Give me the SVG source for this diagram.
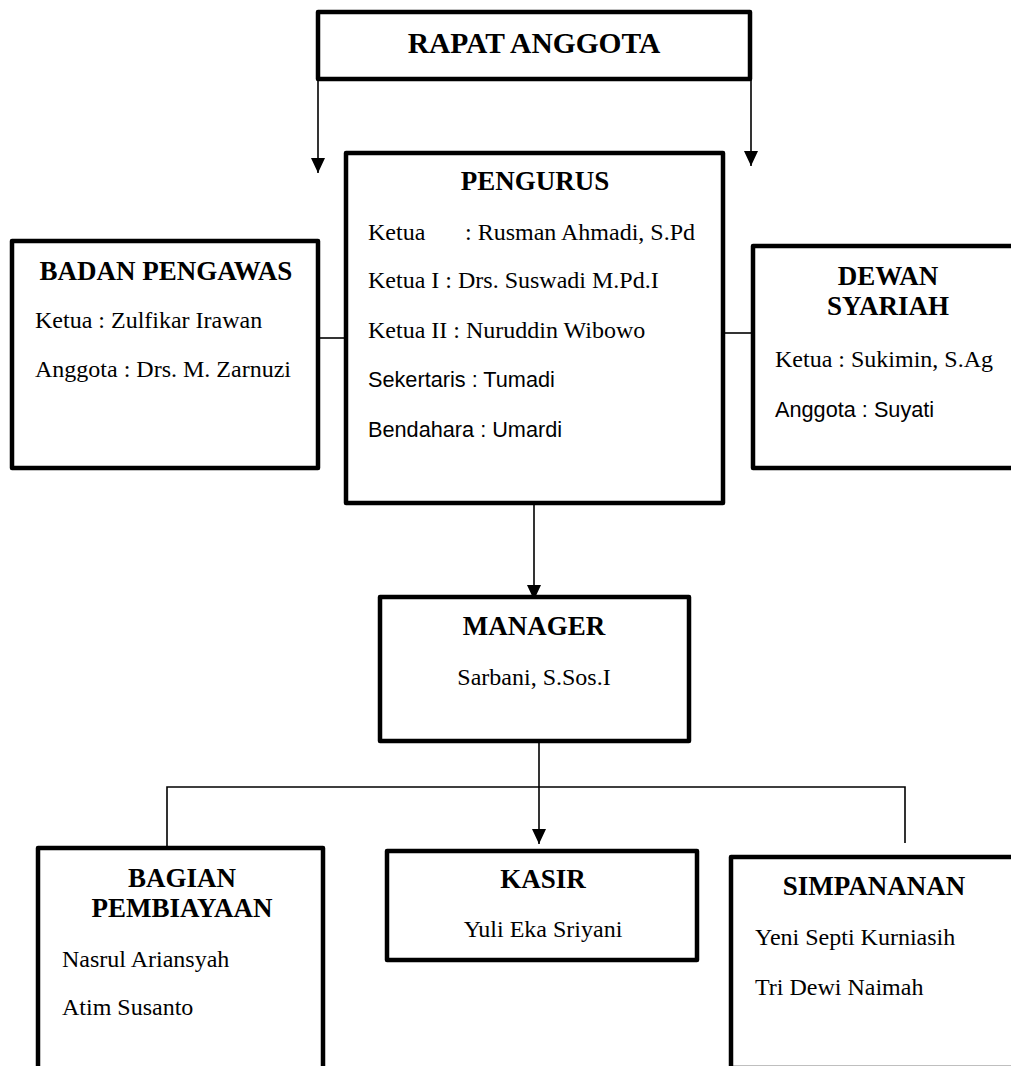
<svg xmlns="http://www.w3.org/2000/svg" width="1011" height="1066" viewBox="0 0 1011 1066">
<style>
.box{fill:#fff;stroke:#000;stroke-width:4.5;stroke-linejoin:round}
.ln{fill:none;stroke:#000;stroke-width:1.6}
.h{font-family:"Liberation Serif","Times New Roman",serif;font-weight:bold;font-size:27px;fill:#000;text-anchor:middle}
.t{font-family:"Liberation Serif","Times New Roman",serif;font-size:24px;fill:#000}
.c{font-family:"Liberation Sans",Arial,sans-serif;font-size:21.7px;fill:#000}
.mid{text-anchor:middle}
</style>
<defs>
<marker id="arr" viewBox="0 0 15 14" markerWidth="15" markerHeight="14" refX="15" refY="7" orient="auto" markerUnits="userSpaceOnUse">
<path d="M0,0 L15,7 L0,14 Z" fill="#000"/>
</marker>
</defs>
<rect width="1011" height="1066" fill="#fff"/>
<g id="connectors">
<line class="ln" x1="318" y1="79" x2="318" y2="173" marker-end="url(#arr)"/>
<line class="ln" x1="751" y1="79" x2="751" y2="166" marker-end="url(#arr)"/>
<line class="ln" x1="318" y1="338" x2="346" y2="338"/>
<line class="ln" x1="723" y1="333" x2="753" y2="333"/>
<line class="ln" x1="534" y1="503" x2="534" y2="600" marker-end="url(#arr)"/>
<line class="ln" x1="539" y1="741" x2="539" y2="844" marker-end="url(#arr)"/>
<polyline class="ln" points="167,848 167,787 905,787 905,843"/>
</g>
<g id="rapat-anggota">
<rect class="box" x="318" y="12" width="432" height="67"/>
<text class="h" x="534" y="53" style="font-size:29.5px">RAPAT ANGGOTA</text>
</g>
<g id="pengurus">
<rect class="box" x="346" y="153" width="377" height="350"/>
<text class="h" x="535" y="190">PENGURUS</text>
<text class="t" x="368" y="240">Ketua</text>
<text class="t" x="465" y="240">: Rusman Ahmadi, S.Pd</text>
<text class="t" x="368" y="288">Ketua I : Drs. Suswadi M.Pd.I</text>
<text class="t" x="368" y="338">Ketua II : Nuruddin Wibowo</text>
<text class="c" x="368" y="387">Sekertaris : Tumadi</text>
<text class="c" x="368" y="437">Bendahara : Umardi</text>
</g>
<g id="badan-pengawas">
<rect class="box" x="12" y="241" width="306" height="227"/>
<text class="h" x="166" y="280">BADAN PENGAWAS</text>
<text class="t" x="35" y="328">Ketua : Zulfikar Irawan</text>
<text class="t" x="35" y="377">Anggota : Drs. M. Zarnuzi</text>
</g>
<g id="dewan-syariah">
<rect class="box" x="753" y="246" width="270" height="222"/>
<text class="h" x="888" y="285">DEWAN</text>
<text class="h" x="888" y="315">SYARIAH</text>
<text class="t" x="775" y="367">Ketua : Sukimin, S.Ag</text>
<text class="c" x="775" y="417">Anggota : Suyati</text>
</g>
<g id="manager">
<rect class="box" x="380" y="597" width="309" height="144"/>
<text class="h" x="534" y="635">MANAGER</text>
<text class="t mid" x="534" y="685">Sarbani, S.Sos.I</text>
</g>
<g id="bagian-pembiayaan">
<rect class="box" x="38" y="848" width="285" height="240"/>
<text class="h" x="182" y="887">BAGIAN</text>
<text class="h" x="182" y="917">PEMBIAYAAN</text>
<text class="t" x="62" y="967">Nasrul Ariansyah</text>
<text class="t" x="62" y="1015">Atim Susanto</text>
</g>
<g id="kasir">
<rect class="box" x="387" y="851" width="310" height="109"/>
<text class="h" x="543" y="888">KASIR</text>
<text class="t mid" x="543" y="937">Yuli Eka Sriyani</text>
</g>
<g id="simpanan">
<rect class="box" x="731" y="857" width="300" height="211"/>
<text class="h" x="874" y="895">SIMPANANAN</text>
<text class="t" x="755" y="945">Yeni Septi Kurniasih</text>
<text class="t" x="755" y="995">Tri Dewi Naimah</text>
</g>
</svg>
